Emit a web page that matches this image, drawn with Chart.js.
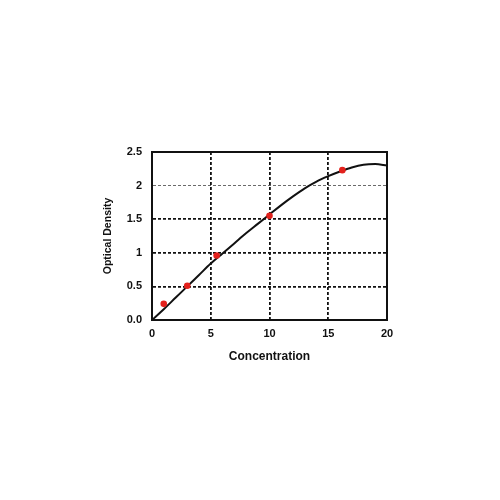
<!DOCTYPE html>
<html>
<head>
<meta charset="utf-8">
<script src="https://cdn.jsdelivr.net/npm/chart.js@4.4.1/dist/chart.umd.min.js"></script>
<style>
  html, body { margin: 0; padding: 0; background: #fff; }
  #wrap { width: 500px; height: 500px; }
</style>
</head>
<body>
<div id="wrap"><canvas id="c" width="500" height="500"></canvas></div>
<script>
// standard points (measured)
var stdConc = [1, 3, 5.5, 10, 16.2];
var stdOD = [0.24, 0.51, 0.96, 1.55, 2.23];

// fitted curve
var curveConc = [0, 1, 2, 3, 4, 5, 6, 7, 8, 9, 10, 11, 12, 13, 14, 15, 16, 17, 18, 19, 20];
var curveOD = [0, 0.16, 0.33, 0.50, 0.67, 0.84, 0.99, 1.14, 1.29, 1.43, 1.57, 1.71, 1.84, 1.96, 2.06, 2.14, 2.21, 2.27, 2.31, 2.32, 2.30];

var xTicks = [0, 5, 10, 15, 20];
var yTickLabels = ['0.0', '0.5', '1', '1.5', '2', '2.5'];

function pairs(xs, ys) {
  var out = [];
  for (var i = 0; i < xs.length; i++) out.push({ x: xs[i], y: ys[i] });
  return out;
}

// plot frame (solid box round the chart area)
var framePlugin = {
  id: 'frame',
  beforeDatasetsDraw: function(chart) {
    var a = chart.chartArea, ctx = chart.ctx;
    ctx.save();
    ctx.strokeStyle = '#111';
    ctx.lineWidth = 2;
    ctx.strokeRect(a.left, a.top, a.right - a.left, a.bottom - a.top);
    ctx.restore();
  }
};

var fontFam = 'Liberation Sans, Arial';

var ctx = document.getElementById('c').getContext('2d');
new Chart(ctx, {
  type: 'line',
  data: {
    datasets: [
      {
        label: 'Standards',
        data: pairs(stdConc, stdOD),
        showLine: false,
        pointRadius: 3.3,
        pointBackgroundColor: '#e3211c',
        pointBorderColor: '#e3211c',
        pointBorderWidth: 0,
        order: 1
      },
      {
        label: 'Curve',
        data: pairs(curveConc, curveOD),
        borderColor: '#111',
        borderWidth: 2,
        pointRadius: 0,
        fill: false,
        cubicInterpolationMode: 'monotone',
        order: 2
      }
    ]
  },
  options: {
    responsive: false,
    animation: false,
    layout: { padding: { left: 102, right: 113, top: 152, bottom: 136 } },
    plugins: { legend: { display: false }, tooltip: { enabled: false } },
    scales: {
      x: {
        type: 'linear',
        min: 0, max: 20,
        afterFit: function(s) { s.height = 44; },
        afterBuildTicks: function(s) { s.ticks = xTicks.map(function(v) { return { value: v }; }); },
        grid: {
          color: '#111',
          lineWidth: 1.8,
          drawTicks: false
        },
        border: { display: true, color: '#111', width: 2, dash: [3, 2] },
        ticks: {
          padding: 7,
          color: '#111',
          font: { family: fontFam, size: 11, weight: 'bold' }
        },
        title: {
          display: true,
          text: 'Concentration',
          color: '#111',
          padding: 0,
          font: { family: fontFam, size: 12, weight: 'bold' }
        }
      },
      y: {
        type: 'linear',
        min: 0, max: 2.5,
        afterFit: function(s) { s.width = 50; },
        grid: {
          color: function(c) { return c.tick && c.tick.value === 2 ? '#444' : '#111'; },
          lineWidth: function(c) { return c.tick && c.tick.value === 2 ? 0.8 : 1.8; },
          drawTicks: false
        },
        border: { display: true, color: '#111', width: 2, dash: [3, 2] },
        ticks: {
          stepSize: 0.5,
          padding: 10,
          color: '#111',
          font: { family: fontFam, size: 11, weight: 'bold' },
          callback: function(v, i) { return yTickLabels[i]; }
        },
        title: {
          display: true,
          text: 'Optical Density',
          color: '#111',
          padding: 0,
          font: { family: fontFam, size: 10.5, weight: 'bold' }
        }
      }
    }
  },
  plugins: [framePlugin]
});
</script>
</body>
</html>
